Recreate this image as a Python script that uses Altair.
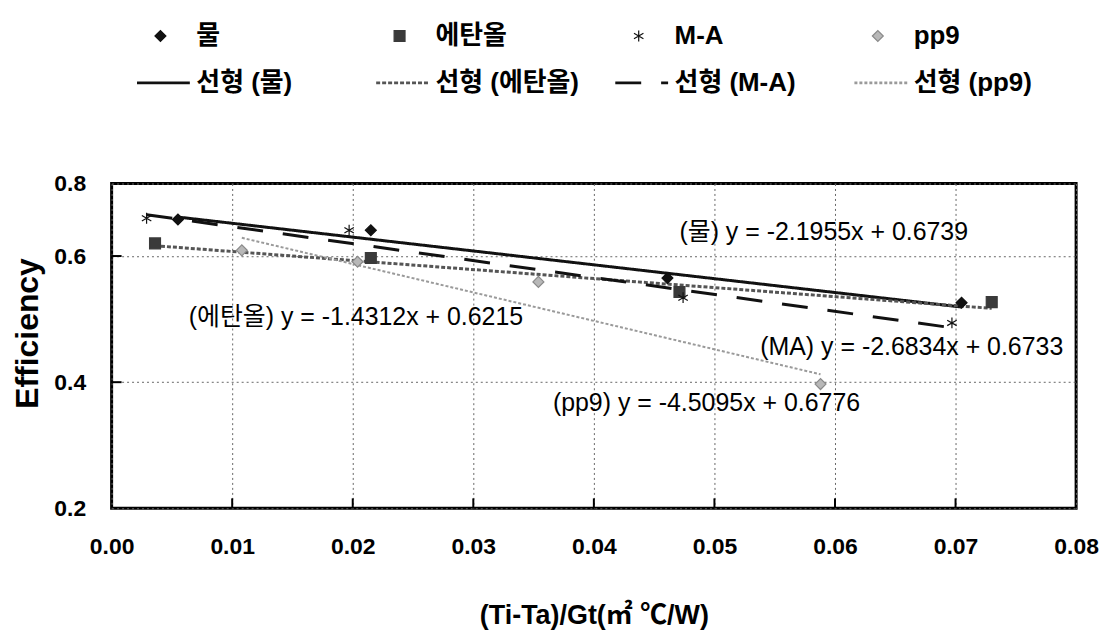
import altair as alt
import pandas as pd

# ---------------- data ----------------
series_names = ["물", "에탄올", "M-A", "pp9"]
trend_names = ["선형 (물)", "선형 (에탄올)", "선형 (M-A)", "선형 (pp9)"]

water_x = [0.0055, 0.0215, 0.0461, 0.0705]
water_y = [0.658, 0.641, 0.565, 0.526]
ethanol_x = [0.0036, 0.0215, 0.0471, 0.0730]
ethanol_y = [0.620, 0.597, 0.543, 0.527]
ma_x = [0.0029, 0.0197, 0.0474, 0.0697]
ma_y = [0.660, 0.641, 0.534, 0.494]
pp9_x = [0.0108, 0.0204, 0.0354, 0.0588]
pp9_y = [0.609, 0.591, 0.559, 0.397]

slopes = [-2.1955, -1.4312, -2.6834, -4.5095]
intercepts = [0.6739, 0.6215, 0.6733, 0.6776]

eq_labels = [
    "(물) y = -2.1955x + 0.6739",
    "(에탄올) y = -1.4312x + 0.6215",
    "(MA) y = -2.6834x + 0.6733",
    "(pp9) y = -4.5095x + 0.6776",
]
eq_x = [0.0471, 0.0064, 0.0538, 0.0366]
eq_y = [0.638, 0.504, 0.455, 0.367]

x_ticks = [0.00, 0.01, 0.02, 0.03, 0.04, 0.05, 0.06, 0.07, 0.08]
y_ticks = [0.2, 0.4, 0.6, 0.8]

# ---------------- tables ----------------
all_x = [water_x, ethanol_x, ma_x, pp9_x]
all_y = [water_y, ethanol_y, ma_y, pp9_y]

rows = []
for name, xs, ys in zip(series_names, all_x, all_y):
    for xv, yv in zip(xs, ys):
        rows.append({"series": name, "x": xv, "y": yv})
points_df = pd.DataFrame(rows)

trend_rows = []
for tname, xs, m, b in zip(trend_names, all_x, slopes, intercepts):
    for xv in (min(xs), max(xs)):
        trend_rows.append({"trend": tname, "x": xv, "y": m * xv + b})
trend_df = pd.DataFrame(trend_rows)

eq_df = pd.DataFrame({"label": eq_labels, "x": eq_x, "y": eq_y})

# inward tick marks along the frame (at the axis tick values)
xtick_df = pd.DataFrame({"x": x_ticks[1:-1], "y": [y_ticks[0]] * (len(x_ticks) - 2)})
ytick_df = pd.DataFrame({"x": [x_ticks[0]] * 2, "y": y_ticks[1:3]})

# ---------------- styles ----------------
AXFONT = "Liberation Sans, Noto Sans CJK KR, sans-serif"
SANS = "Liberation Sans, Noto Sans CJK KR, sans-serif"

asterisk = "M0,-1L0,1M-0.866,-0.5L0.866,0.5M-0.866,0.5L0.866,-0.5"
pt_shapes = ["diamond", "square", asterisk, "diamond"]
pt_fills = ["#111111", "#3a3a3a", "#111111", "#b8b8b8"]
pt_strokes = ["#111111", "#3a3a3a", "#111111", "#8a8a8a"]

line_colors = ["#111111", "#555555", "#111111", "#9a9a9a"]
line_dashes = [[1, 0], [4, 2], [26, 20], [3, 2]]

x_scale = alt.Scale(domain=[0, 0.08], nice=False, zero=False)
# the printed frame tops out at ~0.715 although its top label reads 0.8
y_scale = alt.Scale(domain=[0.2, 0.715, 0.8], range=[326, 0, 0], nice=False, zero=False)

x_axis = alt.Axis(
    values=x_ticks, format=".2f", grid=True, gridDash=[2, 3], gridColor="#666666",
    gridWidth=1, domain=False, ticks=False, tickSize=0, labelFlush=False,
    labelFont=AXFONT, labelFontSize=23, labelFontWeight="bold", labelColor="black",
    labelPadding=27, title="(Ti-Ta)/Gt(㎡ ℃/W)", titleFont=AXFONT, titleFontSize=27,
    titleFontWeight="bold", titleColor="black", titleY=95, titleBaseline="top",
)
y_axis = alt.Axis(
    values=y_ticks, format=".1f", grid=True, gridDash=[2, 3], gridColor="#666666",
    gridWidth=1, domain=False, ticks=False, tickSize=0, labelFlush=False,
    labelFont=AXFONT, labelFontSize=23, labelFontWeight="bold", labelColor="black",
    labelPadding=26, title="Efficiency", titleFont=SANS, titleFontSize=32,
    titleFontWeight="bold", titleColor="black", titleAngle=270, titleX=-84,
    titleY=150, titleAlign="center", titleBaseline="middle",
)

legend_pts = alt.Legend(
    title=None, orient="none", legendX=36, legendY=-161, direction="horizontal",
    columns=4, columnPadding=119, gridAlign="all", symbolSize=120,
    symbolStrokeWidth=1.2, labelFont=SANS, labelFontSize=26, labelFontWeight="bold",
    labelColor="black", labelOffset=23, labelLimit=300,
)
legend_lines = alt.Legend(
    title=None, orient="none", legendX=24, legendY=-129, direction="horizontal",
    columns=4, columnPadding=29, gridAlign="all", symbolType="stroke",
    symbolSize=2809, symbolStrokeWidth=3, labelFont=SANS, labelFontSize=26,
    labelFontWeight="bold", labelColor="black", labelOffset=5, labelLimit=300,
)

X = alt.X("x:Q", scale=x_scale, axis=x_axis)
Y = alt.Y("y:Q", scale=y_scale, axis=y_axis)

line_color = alt.Color("trend:N", scale=alt.Scale(domain=trend_names, range=line_colors), legend=legend_lines)
line_dash = alt.StrokeDash("trend:N", scale=alt.Scale(domain=trend_names, range=line_dashes), legend=legend_lines)

lines_main = alt.Chart(trend_df).transform_filter(
    alt.datum.trend != trend_names[3]
).mark_line(strokeWidth=3).encode(x=X, y=Y, color=line_color, strokeDash=line_dash)

lines_pp9 = alt.Chart(trend_df).transform_filter(
    alt.datum.trend == trend_names[3]
).mark_line(strokeWidth=2).encode(x=X, y=Y, color=line_color, strokeDash=line_dash)

points = alt.Chart(points_df).mark_point(size=120, strokeWidth=1.2, opacity=1).encode(
    x=X,
    y=Y,
    shape=alt.Shape("series:N", scale=alt.Scale(domain=series_names, range=pt_shapes), legend=legend_pts),
    fill=alt.Fill("series:N", scale=alt.Scale(domain=series_names, range=pt_fills), legend=legend_pts),
    stroke=alt.Stroke("series:N", scale=alt.Scale(domain=series_names, range=pt_strokes), legend=legend_pts),
)

equations = alt.Chart(eq_df).mark_text(
    align="left", baseline="middle", font=SANS, fontSize=25, color="black"
).encode(x=X, y=Y, text="label:N")

xticks_in = alt.Chart(xtick_df).mark_tick(
    orient="vertical", size=10, thickness=2, color="black", yOffset=-5, opacity=1
).encode(x=X, y=Y)

yticks_in = alt.Chart(ytick_df).mark_tick(
    orient="horizontal", size=10, thickness=2, color="black", xOffset=5, opacity=1
).encode(x=X, y=Y)

chart = alt.layer(lines_main, lines_pp9, points, equations, xticks_in, yticks_in).properties(
    width=968,
    height=326,
    padding={"left": 104, "top": 175, "right": 30, "bottom": 128},
    autosize="none",
    background="white",
).configure_view(stroke="black", strokeWidth=3)

chart.save("out.html", embed_options={"renderer": "svg", "actions": False})
